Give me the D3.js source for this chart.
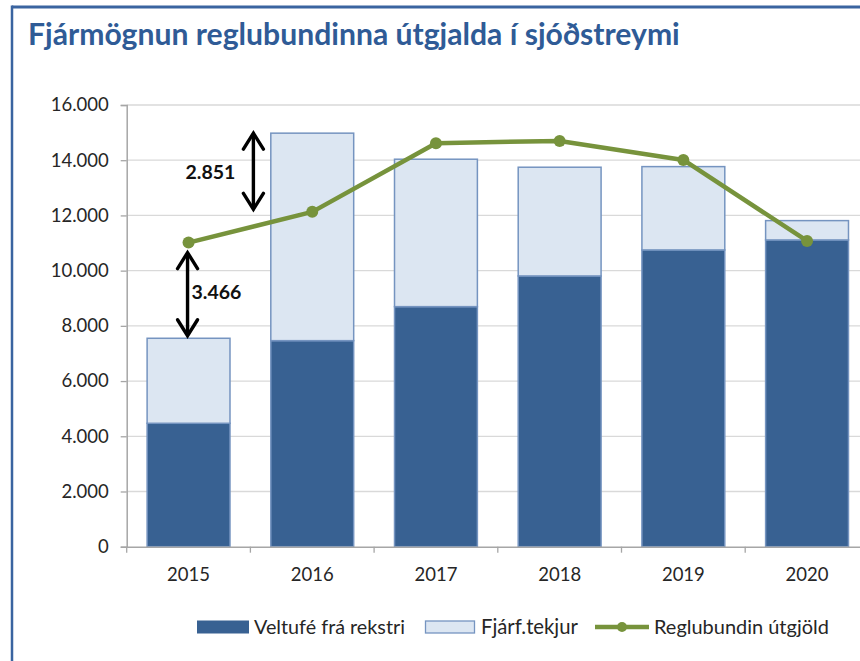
<!DOCTYPE html>
<html>
<head>
<meta charset="utf-8">
<script src="https://cdn.jsdelivr.net/npm/d3@7"></script>
<style>
  html, body { margin: 0; padding: 0; background: #fff; }
  svg { display: block; }
  text { font-family: Lato, "Open Sans", sans-serif; }
</style>
</head>
<body>
<svg id="chart" width="860" height="661"></svg>
<script>
// ---- data ----
const years = ["2015", "2016", "2017", "2018", "2019", "2020"];
const veltufe = [4471, 7464, 8696, 9808, 10750, 11112];      // Veltufé frá rekstri
const fjarftekjur = [3079, 7516, 5340, 3938, 3018, 700];     // Fjárf.tekjur
const utgjold = [11016, 12129, 14616, 14699, 14011, 11076];  // Reglubundin útgjöld
const yTicks = [0, 2000, 4000, 6000, 8000, 10000, 12000, 14000, 16000];
const seriesNames = ["Veltufé frá rekstri", "Fjárf.tekjur", "Reglubundin útgjöld"];
const titleText = "Fjármögnun reglubundinna útgjalda í sjóðstreymi";

// ---- setup ----
const svg = d3.select("#chart");
const W = 860, H = 661;
const margin = { left: 126.7, top: 105, bottom: 114.3 };
const plotRight = 126.7 + 6 * 123.7;
const locale = d3.formatLocale({ decimal: ",", thousands: ".", grouping: [3], currency: ["", ""] });
const fmt = locale.format(",d");

const x = d3.scaleBand().domain(years).range([margin.left, plotRight]).paddingInner(0.33).paddingOuter(0.165);
const xb = d3.scaleBand().domain(years).range([margin.left, plotRight]);
const y = d3.scaleLinear().domain([0, 16000]).range([H - margin.bottom, margin.top]);

const c = {
  dark: "#386192", light: "#dce6f2", barStroke: "#7594c0",
  line: "#77933c", grid: "#d9d9d9", axis: "#a6a6a6",
  title: "#2f5b96", border: "#3a64a0", text: "#262626"
};

// border
svg.append("line").attr("x1", 12).attr("x2", W).attr("y1", 7).attr("y2", 7)
  .attr("stroke", c.border).attr("stroke-width", 3);
svg.append("line").attr("x1", 12).attr("x2", 12).attr("y1", 5.5).attr("y2", H)
  .attr("stroke", c.border).attr("stroke-width", 2.5);

// title
const title = svg.append("text").attr("x", 28).attr("y", 45)
  .attr("fill", c.title).attr("font-weight", "bold").attr("font-size", 26)
  .text(titleText);
const tw = title.node().getComputedTextLength();
title.attr("font-size", 26 * 652 / tw);

// gridlines
svg.append("g").selectAll("line").data(yTicks.slice(1)).join("line")
  .attr("x1", margin.left).attr("x2", W)
  .attr("y1", d => y(d)).attr("y2", d => y(d))
  .attr("stroke", c.grid).attr("stroke-width", 1.3);

// y axis
const yAxis = svg.append("g").attr("transform", `translate(${margin.left},0)`)
  .call(d3.axisLeft(y).tickValues(yTicks).tickFormat(fmt).tickSize(6).tickPadding(12));
yAxis.select(".domain").attr("stroke", c.axis).attr("stroke-width", 1.5);
yAxis.selectAll(".tick line").attr("stroke", c.axis).attr("stroke-width", 1.3);
yAxis.selectAll(".tick text").attr("font-size", 18.5).attr("fill", c.text)
  .attr("font-family", "Lato, sans-serif");

// stacked bars
const stackData = years.map((yr, i) => ({ year: yr, v: veltufe[i], f: fjarftekjur[i] }));
const stack = d3.stack().keys(["v", "f"])(stackData);
const fills = { v: c.dark, f: c.light };
svg.append("g").selectAll("g").data(stack).join("g")
  .attr("fill", d => fills[d.key])
  .selectAll("rect").data(d => d).join("rect")
  .attr("x", d => x(d.data.year))
  .attr("width", x.bandwidth())
  .attr("y", d => y(d[1]))
  .attr("height", d => y(d[0]) - y(d[1]))
  .attr("stroke", c.barStroke).attr("stroke-width", 1.5);

// x axis
const xAxis = svg.append("g").attr("transform", `translate(0,${y(0)})`)
  .call(d3.axisBottom(xb).tickSize(0).tickPadding(21));
xAxis.select(".domain").attr("stroke", c.axis).attr("stroke-width", 1.5);
xAxis.selectAll(".tick text").attr("font-size", 18.5).attr("fill", c.text)
  .attr("font-family", "Lato, sans-serif");
svg.append("g").selectAll("line").data(years).join("line")
  .attr("x1", d => xb(d)).attr("x2", d => xb(d))
  .attr("y1", y(0)).attr("y2", y(0) + 6)
  .attr("stroke", c.axis).attr("stroke-width", 1.3);

// line series
const cx = (yr) => x(yr) + x.bandwidth() / 2;
const lineGen = d3.line().x((d, i) => cx(years[i])).y(d => y(d));
svg.append("path").datum(utgjold).attr("d", lineGen)
  .attr("fill", "none").attr("stroke", c.line).attr("stroke-width", 4.5)
  .attr("stroke-linejoin", "round");
svg.append("g").selectAll("circle").data(utgjold).join("circle")
  .attr("cx", (d, i) => cx(years[i])).attr("cy", d => y(d)).attr("r", 6)
  .attr("fill", c.line);

// annotations (double arrows)
function dblArrow(xp, y1, y2) {
  const g = svg.append("g").attr("stroke", "#000").attr("stroke-width", 3.4)
    .attr("fill", "none").attr("stroke-linecap", "round").attr("stroke-linejoin", "miter");
  g.append("line").attr("x1", xp).attr("x2", xp).attr("y1", y1 + 2).attr("y2", y2 - 2);
  g.append("path").attr("d", `M${xp - 10},${y1 + 17}L${xp},${y1 + 1}L${xp + 10},${y1 + 17}`);
  g.append("path").attr("d", `M${xp - 10},${y2 - 17}L${xp},${y2 - 1}L${xp + 10},${y2 - 17}`);
}
const total = years.map((_, i) => veltufe[i] + fjarftekjur[i]);
// 2016: gap between total and útgjöld
const a1x = xb(years[1]) + 3;
dblArrow(a1x, y(total[1]) - 1, y(utgjold[1]) - 1.5);
svg.append("text").attr("x", a1x - 18).attr("y", (y(total[1]) + y(utgjold[1])) / 2)
  .attr("dy", "0.35em").attr("text-anchor", "end")
  .attr("font-weight", "bold").attr("font-size", 19.5).attr("fill", "#111")
  .text(fmt(total[1] - utgjold[1]));
// 2015: gap between útgjöld and total
const a2x = cx(years[0]) - 1;
dblArrow(a2x, y(utgjold[0]) + 9, y(total[0]) - 1.5);
svg.append("text").attr("x", a2x + 4).attr("y", (y(utgjold[0]) + y(total[0])) / 2 + 2)
  .attr("dy", "0.35em").attr("text-anchor", "start")
  .attr("font-weight", "bold").attr("font-size", 19.5).attr("fill", "#111")
  .text(fmt(utgjold[0] - total[0]));

// legend
const ly = 627;
const leg = svg.append("g");
const legText = (xp, txt, width) => {
  const t = leg.append("text").attr("x", xp).attr("y", ly).attr("dy", "0.35em")
    .attr("font-size", 18.5).attr("fill", c.text).text(txt);
  const w = t.node().getComputedTextLength();
  t.attr("font-size", 18.5 * width / w);
};
leg.append("rect").attr("x", 197).attr("y", ly - 6.5).attr("width", 52).attr("height", 13)
  .attr("fill", c.dark);
legText(254, seriesNames[0], 151);
leg.append("rect").attr("x", 425.5).attr("y", ly - 6).attr("width", 49).attr("height", 12)
  .attr("fill", c.light).attr("stroke", c.barStroke).attr("stroke-width", 1.3);
legText(481, seriesNames[1], 97);
leg.append("line").attr("x1", 595).attr("x2", 649).attr("y1", ly).attr("y2", ly)
  .attr("stroke", c.line).attr("stroke-width", 4.5);
leg.append("circle").attr("cx", 622).attr("cy", ly).attr("r", 5).attr("fill", c.line);
legText(654, seriesNames[2], 175);
</script>
</body>
</html>
